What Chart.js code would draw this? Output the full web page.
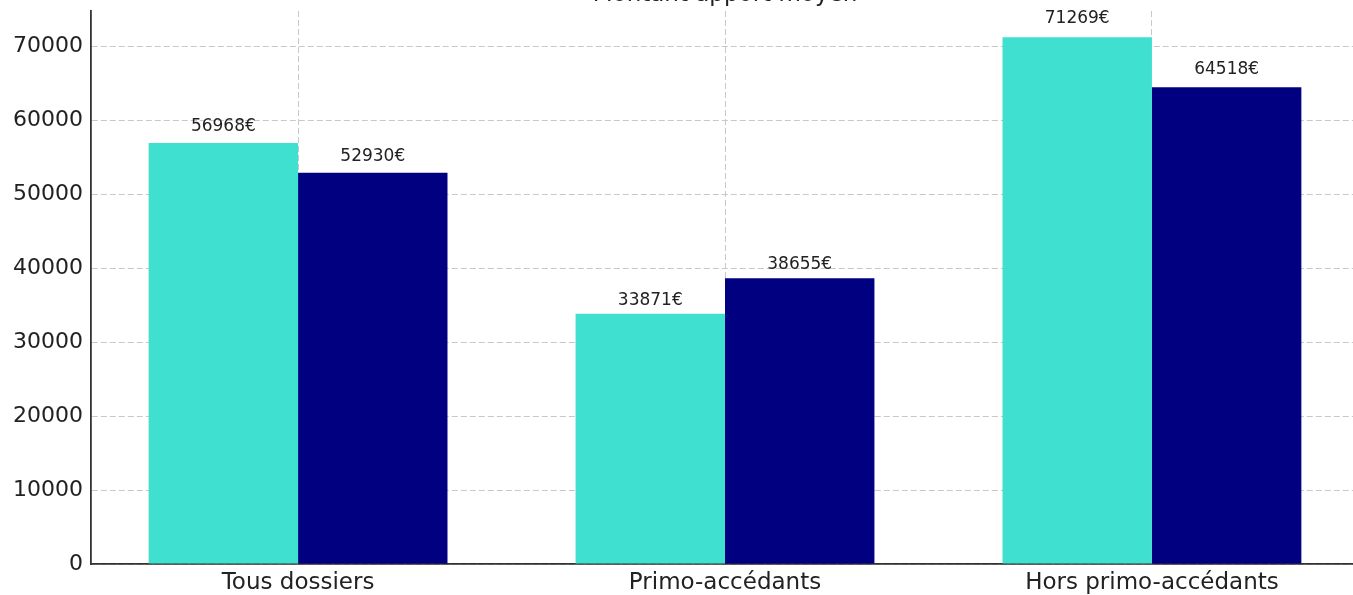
<!DOCTYPE html>
<html>
<head>
<meta charset="utf-8">
<script src="https://cdn.jsdelivr.net/npm/chart.js@4/dist/chart.umd.min.js"></script>
<style>
  html, body { margin: 0; padding: 0; background: #fff; overflow: hidden; }
  #wrap { position: absolute; left: 0; top: -40px; width: 1359px; height: 636px; }
</style>
</head>
<body>
<div id="wrap"><canvas id="apportChart"></canvas></div>
<script>
// Categories and average down payment per group
const categories = ['Tous dossiers', 'Primo-accédants', 'Hors primo-accédants'];
const seriesA = [56968, 33871, 71269];
const seriesB = [52930, 38655, 64518];
const yTickValues = [0, 10000, 20000, 30000, 40000, 50000, 60000, 70000];

const FONT = '"DejaVu Sans", "Liberation Sans", sans-serif';

// Value labels above every bar, placed 2% above the bar height
const valueLabels = {
    id: 'valueLabels',
    afterDatasetsDraw(chart) {
        const ctx = chart.ctx;
        const yScale = chart.scales.y;
        ctx.save();
        ctx.font = '17px ' + FONT;
        ctx.fillStyle = '#222';
        ctx.textAlign = 'center';
        ctx.textBaseline = 'bottom';
        chart.data.datasets.forEach((ds, di) => {
            const meta = chart.getDatasetMeta(di);
            meta.data.forEach((bar, i) => {
                const v = ds.data[i].y;
                ctx.fillText(v + '€', bar.x, yScale.getPixelForValue(v * 1.02));
            });
        });
        ctx.restore();
    }
};

var ctx = document.getElementById('apportChart').getContext('2d');
var apportChart = new Chart(ctx, {
    type: 'bar',
    data: {
        datasets: [{
            label: 'A',
            data: seriesA.map((v, i) => ({ x: i, y: v })),
            backgroundColor: '#40e0d0',
            borderWidth: 0,
            categoryPercentage: 0.7,
            barPercentage: 1.0
        }, {
            label: 'B',
            data: seriesB.map((v, i) => ({ x: i, y: v })),
            backgroundColor: '#000080',
            borderWidth: 0,
            categoryPercentage: 0.7,
            barPercentage: 1.0
        }]
    },
    options: {
        responsive: true,
        maintainAspectRatio: false,
        animation: false,
        events: [],
        layout: { padding: 0 },
        scales: {
            x: {
                type: 'linear',
                min: -0.485,
                max: 2.485,
                offset: false,
                afterBuildTicks: scale => {
                    scale.ticks = categories.map((c, i) => ({ value: i }));
                },
                afterFit: scale => { scale.height = 32; },
                grid: {
                    color: '#c8c8c8',
                    lineWidth: 1,
                    offset: false,
                    drawTicks: false
                },
                border: { display: true, color: '#333', width: 1.8, dash: [6, 3] },
                ticks: {
                    padding: 5,
                    color: '#222',
                    font: { family: FONT, size: 23 },
                    maxRotation: 0,
                    callback: v => categories[v]
                }
            },
            y: {
                min: 0,
                max: 74832,
                afterBuildTicks: scale => {
                    scale.ticks = yTickValues.map(v => ({ value: v }));
                },
                afterFit: scale => { scale.width = 91; },
                grid: {
                    color: '#c8c8c8',
                    lineWidth: 1,
                    drawTicks: false
                },
                border: { display: true, color: '#333', width: 1.8, dash: [6, 3] },
                ticks: {
                    padding: 8,
                    color: '#222',
                    font: { family: FONT, size: 22 },
                    callback: v => String(v)
                }
            }
        },
        plugins: {
            legend: { display: false },
            tooltip: { enabled: false },
            title: {
                display: true,
                fullSize: false,
                text: 'Montant apport moyen',
                color: '#222',
                font: { family: FONT, size: 23, weight: 'normal', lineHeight: 1.2 },
                padding: { top: 21, bottom: 2.4 }
            }
        }
    },
    plugins: [valueLabels]
});
</script>
</body>
</html>
